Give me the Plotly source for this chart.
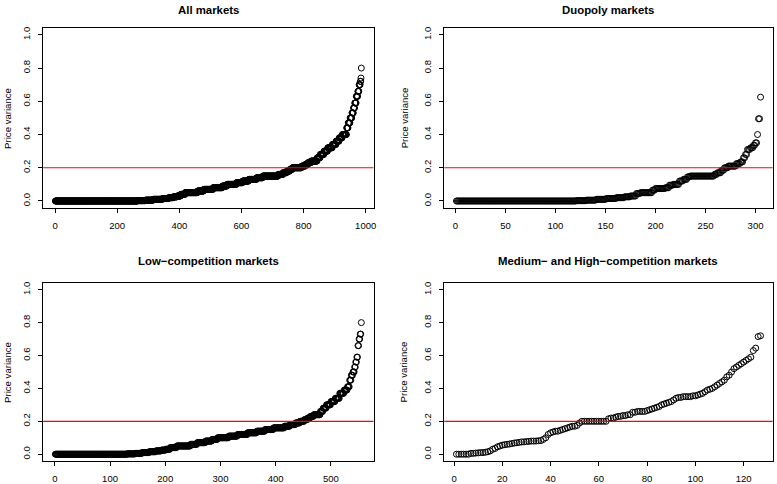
import numpy as np
import plotly.graph_objects as go

# ---------------- data ----------------
titles = ["All markets", "Duopoly markets", "Low\u2212competition markets",
          "Medium\u2212 and High\u2212competition markets"]

# sorted price variance, stored as value levels with their counts
all_levels = [0.000, 0.002, 0.005, 0.010, 0.015, 0.020, 0.025, 0.030, 0.040, 0.050,
              0.060, 0.070, 0.080, 0.090, 0.100, 0.110, 0.120, 0.130, 0.140, 0.150,
              0.160, 0.170, 0.180, 0.190, 0.200, 0.210, 0.220, 0.230, 0.240, 0.260,
              0.280, 0.300, 0.320, 0.340, 0.360, 0.380, 0.400, 0.440, 0.470, 0.500,
              0.530, 0.560, 0.590, 0.630, 0.660, 0.700, 0.720, 0.740, 0.800]
all_counts = [265, 25, 25, 30, 20, 15, 12, 12, 14, 40,
              20, 30, 30, 15, 30, 20, 20, 25, 20, 50,
              15, 12, 10, 8, 30, 12, 8, 10, 20, 10,
              12, 12, 15, 12, 10, 10, 14, 5, 6, 6,
              5, 4, 5, 5, 4, 4, 2, 1, 1]

duo_levels = [0.000, 0.002, 0.005, 0.010, 0.015, 0.020, 0.025, 0.030, 0.045, 0.050,
              0.065, 0.075, 0.080, 0.095, 0.100, 0.120, 0.130, 0.145, 0.150, 0.160,
              0.170, 0.185, 0.200, 0.210, 0.225, 0.235, 0.260, 0.280, 0.310, 0.320,
              0.335, 0.350, 0.400, 0.495, 0.625]
duo_counts = [120, 10, 10, 10, 10, 8, 6, 6, 4, 12,
              3, 10, 4, 4, 6, 4, 4, 3, 24, 3,
              4, 3, 4, 8, 4, 3, 2, 2, 3, 3,
              2, 2, 1, 2, 1]

low_levels = [0.000, 0.002, 0.005, 0.010, 0.015, 0.020, 0.025, 0.030, 0.040, 0.050,
              0.060, 0.070, 0.080, 0.090, 0.100, 0.110, 0.120, 0.130, 0.140, 0.150,
              0.160, 0.170, 0.180, 0.190, 0.200, 0.210, 0.220, 0.230, 0.240, 0.260,
              0.280, 0.300, 0.320, 0.340, 0.370, 0.390, 0.410, 0.450, 0.480, 0.500,
              0.530, 0.560, 0.590, 0.660, 0.700, 0.730, 0.800]
low_counts = [130, 15, 12, 13, 12, 10, 8, 8, 12, 25,
              12, 15, 12, 10, 20, 16, 18, 17, 15, 15,
              20, 10, 10, 8, 8, 6, 5, 6, 12, 5,
              6, 8, 8, 8, 8, 6, 4, 3, 3, 3,
              2, 2, 2, 2, 2, 2, 1]

medhigh_values = [0.0, 0.0, 0.0, 0.0, 0.0, 0.0,
                  0.005, 0.005, 0.007, 0.008, 0.01, 0.01,
                  0.012, 0.015, 0.02, 0.03, 0.035,
                  0.045, 0.05, 0.055,
                  0.058, 0.06, 0.062, 0.065, 0.068,
                  0.07, 0.072, 0.075, 0.075, 0.077,
                  0.078, 0.08, 0.08, 0.08, 0.082, 0.083,
                  0.09, 0.10, 0.12, 0.13, 0.135,
                  0.14, 0.14, 0.145, 0.15, 0.155, 0.16,
                  0.165, 0.17, 0.17, 0.175, 0.19,
                  0.2, 0.2, 0.2, 0.2, 0.2, 0.2, 0.2, 0.2, 0.2, 0.2, 0.2,
                  0.215, 0.22, 0.22,
                  0.225, 0.23, 0.23, 0.235, 0.235, 0.24, 0.24,
                  0.255, 0.255, 0.26, 0.26, 0.26, 0.26, 0.265,
                  0.27, 0.275, 0.28, 0.285,
                  0.29, 0.30, 0.305, 0.31,
                  0.315, 0.32, 0.33,
                  0.34, 0.345, 0.345, 0.35, 0.35, 0.35, 0.35, 0.355, 0.355,
                  0.36, 0.365, 0.37,
                  0.38, 0.39, 0.395, 0.40,
                  0.41, 0.42, 0.43, 0.44,
                  0.45, 0.47, 0.48, 0.50,
                  0.52, 0.53, 0.54,
                  0.55, 0.56, 0.57,
                  0.58, 0.59, 0.63, 0.645, 0.715, 0.72]

threshold = 0.2
y_ticks = [0.0, 0.2, 0.4, 0.6, 0.8, 1.0]
y_ticklabels = ["0.0", "0.2", "0.4", "0.6", "0.8", "1.0"]
x_ticks = [[0, 200, 400, 600, 800, 1000],
           [0, 50, 100, 150, 200, 250, 300],
           [0, 100, 200, 300, 400, 500],
           [0, 20, 40, 60, 80, 100, 120]]

series = [np.repeat(all_levels, all_counts),
          np.repeat(duo_levels, duo_counts),
          np.repeat(low_levels, low_counts),
          np.array(medhigh_values)]

# ---------------- layout geometry (pixels) ----------------
W, H = 777, 484
boxes = [(43.3, 375.0, 27.3, 207.5),
         (446.0, 775.7, 27.3, 207.5),
         (43.3, 375.0, 283.3, 461.7),
         (446.0, 775.7, 283.3, 461.7)]
title_y = [9.5, 9.5, 261.0, 261.0]
ytitle_x = [8.0, 406.0, 8.0, 406.0]

FONT = "Liberation Sans, Arial, Helvetica, sans-serif"

fig = go.Figure()
layout = dict(width=W, height=H, margin=dict(l=0, r=0, t=0, b=0),
              paper_bgcolor="white", plot_bgcolor="white", showlegend=False,
              font=dict(family=FONT, color="black", size=9.5))
annotations = []
shapes = []

for i, vals in enumerate(series):
    n = len(vals)
    idx = np.arange(1, n + 1)
    ax = "" if i == 0 else str(i + 1)
    x0, x1, y0, y1 = boxes[i]
    pad = 0.04 * (n - 1)
    layout["xaxis" + ax] = dict(
        domain=[x0 / W, x1 / W], range=[1 - pad, n + pad], anchor="y" + ax,
        tickmode="array", tickvals=x_ticks[i], ticks="outside", ticklen=4,
        tickwidth=1, tickcolor="black", showline=True, linecolor="black",
        linewidth=1, mirror=True, showgrid=False, zeroline=False,
        tickfont=dict(size=9.5, color="black", family=FONT),
        ticklabelstandoff=5)
    layout["yaxis" + ax] = dict(
        domain=[1 - y1 / H, 1 - y0 / H], range=[-0.04, 1.04], anchor="x" + ax,
        tickmode="array", tickvals=y_ticks, ticktext=y_ticklabels,
        ticks="outside", ticklen=4, tickwidth=1, tickcolor="black",
        showline=True, linecolor="black", linewidth=1, mirror=True,
        showgrid=False, zeroline=False, tickangle=-90,
        tickfont=dict(size=9.5, color="black", family=FONT),
        ticklabelstandoff=4)
    fig.add_trace(go.Scatter(
        x=idx, y=vals, mode="markers", xaxis="x" + ax, yaxis="y" + ax,
        marker=dict(symbol="circle-open", size=6, color="black",
                    line=dict(width=1, color="black")),
        hoverinfo="skip"))
    shapes.append(dict(type="line", xref="x" + ax + " domain", yref="y" + ax,
                       x0=0, x1=1, y0=threshold, y1=threshold,
                       line=dict(color="#FF0000", width=1.2)))
    annotations.append(dict(text="<b>" + titles[i] + "</b>", xref="paper",
                            yref="paper", x=(x0 + x1) / 2 / W,
                            y=1 - title_y[i] / H, xanchor="center",
                            yanchor="middle", showarrow=False,
                            font=dict(size=11.4, color="black", family=FONT)))
    annotations.append(dict(text="Price variance", xref="paper", yref="paper",
                            x=ytitle_x[i] / W, y=1 - (y0 + y1) / 2 / H,
                            xanchor="center", yanchor="middle", textangle=-90,
                            showarrow=False,
                            font=dict(size=9.6, color="black", family=FONT)))

layout["annotations"] = annotations
layout["shapes"] = shapes
fig.update_layout(**layout)
fig.write_html("out.html",
               config={"displayModeBar": False, "staticPlot": True},
               post_script="document.body.style.margin='0';"
                           "document.body.style.padding='0';"
                           "document.body.style.overflow='hidden';")
